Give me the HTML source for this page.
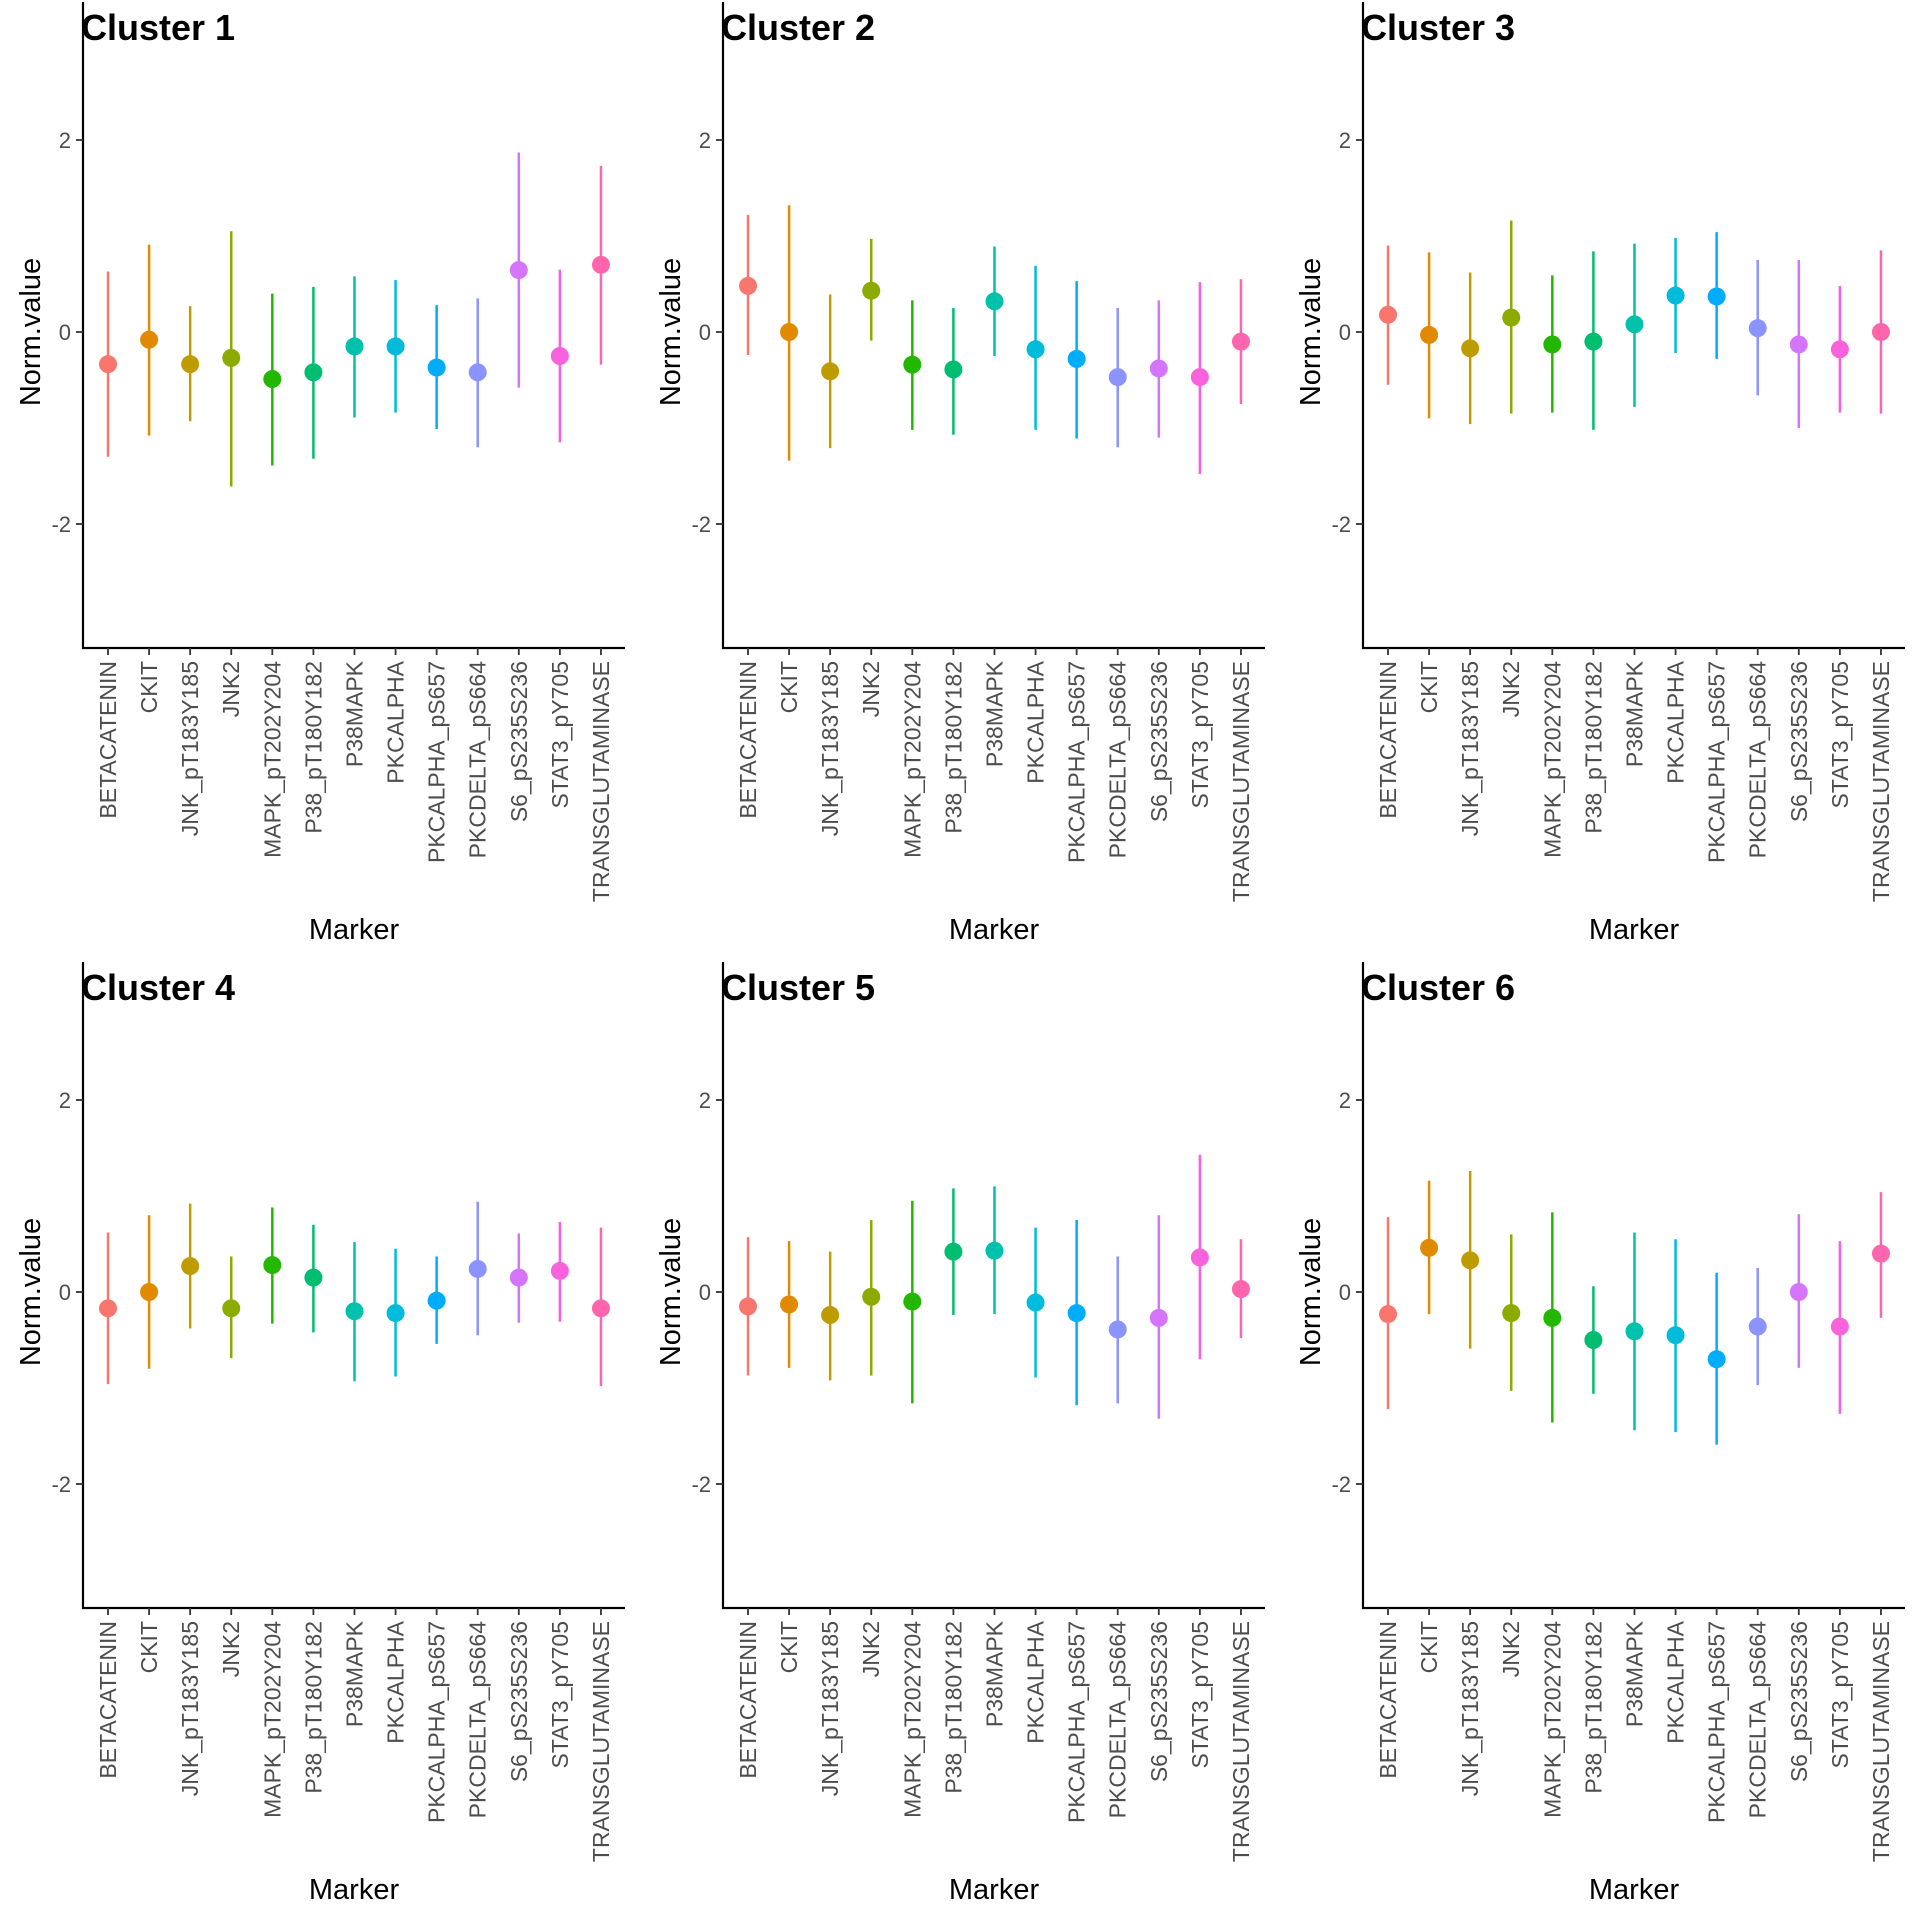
<!DOCTYPE html>
<html><head><meta charset="utf-8"><style>
html,body{margin:0;padding:0;background:#fff;}
svg{display:block;font-family:"Liberation Sans",sans-serif;}
</style></head><body>
<svg id="chart" width="1920" height="1920" viewBox="0 0 1920 1920" xmlns="http://www.w3.org/2000/svg"></svg>
<script>
const markers = ["BETACATENIN","CKIT","JNK_pT183Y185","JNK2","MAPK_pT202Y204","P38_pT180Y182","P38MAPK","PKCALPHA","PKCALPHA_pS657","PKCDELTA_pS664","S6_pS235S236","STAT3_pY705","TRANSGLUTAMINASE"];
const colors = ["#F8766D","#E18A00","#BE9C00","#8CAB00","#24B700","#00BE70","#00C1AB","#00BBDA","#00ACFC","#8B93FF","#D575FE","#F962DD","#FF65AC"];
const clusterNames = ["Cluster 1","Cluster 2","Cluster 3","Cluster 4","Cluster 5","Cluster 6"];
const yTicks = [-2,0,2];
const meanC1 = [-0.335,-0.08,-0.335,-0.27,-0.49,-0.42,-0.15,-0.15,-0.37,-0.42,0.645,-0.25,0.70];
const hiC1 = [0.63,0.91,0.27,1.05,0.40,0.47,0.58,0.54,0.28,0.35,1.87,0.65,1.73];
const loC1 = [-1.30,-1.08,-0.93,-1.61,-1.39,-1.32,-0.89,-0.84,-1.01,-1.20,-0.58,-1.15,-0.34];
const meanC2 = [0.48,0,-0.41,0.43,-0.34,-0.39,0.32,-0.18,-0.28,-0.47,-0.38,-0.47,-0.10];
const hiC2 = [1.22,1.32,0.39,0.97,0.33,0.25,0.89,0.69,0.53,0.25,0.33,0.52,0.55];
const loC2 = [-0.24,-1.34,-1.21,-0.09,-1.02,-1.07,-0.25,-1.02,-1.11,-1.20,-1.10,-1.48,-0.75];
const meanC3 = [0.18,-0.03,-0.17,0.15,-0.13,-0.10,0.08,0.38,0.37,0.04,-0.13,-0.18,0];
const hiC3 = [0.90,0.83,0.62,1.16,0.59,0.84,0.92,0.98,1.04,0.75,0.75,0.48,0.85];
const loC3 = [-0.55,-0.90,-0.96,-0.85,-0.84,-1.02,-0.78,-0.22,-0.28,-0.66,-1.0,-0.84,-0.85];
const meanC4 = [-0.17,0,0.27,-0.17,0.28,0.15,-0.20,-0.22,-0.09,0.24,0.15,0.22,-0.17];
const hiC4 = [0.62,0.80,0.92,0.37,0.88,0.70,0.52,0.45,0.37,0.94,0.61,0.73,0.67];
const loC4 = [-0.96,-0.80,-0.38,-0.69,-0.33,-0.42,-0.93,-0.88,-0.54,-0.45,-0.32,-0.31,-0.98];
const meanC5 = [-0.15,-0.13,-0.24,-0.05,-0.10,0.42,0.43,-0.11,-0.22,-0.39,-0.27,0.36,0.03];
const hiC5 = [0.57,0.53,0.42,0.75,0.95,1.08,1.10,0.67,0.75,0.37,0.80,1.43,0.55];
const loC5 = [-0.87,-0.79,-0.92,-0.87,-1.16,-0.24,-0.23,-0.89,-1.18,-1.16,-1.32,-0.70,-0.48];
const meanC6 = [-0.23,0.46,0.33,-0.22,-0.27,-0.50,-0.41,-0.45,-0.70,-0.36,0,-0.36,0.40];
const hiC6 = [0.78,1.16,1.26,0.60,0.83,0.06,0.62,0.55,0.20,0.25,0.81,0.53,1.04];
const loC6 = [-1.22,-0.23,-0.59,-1.03,-1.36,-1.06,-1.44,-1.46,-1.59,-0.97,-0.79,-1.27,-0.27];
const means=[meanC1,meanC2,meanC3,meanC4,meanC5,meanC6];
const his=[hiC1,hiC2,hiC3,hiC4,hiC5,hiC6];
const los=[loC1,loC2,loC3,loC4,loC5,loC6];

const NS="http://www.w3.org/2000/svg";
const svg=document.getElementById('chart');
function mk(tag,attrs,parent,text){const e=document.createElementNS(NS,tag);for(const k in attrs)e.setAttribute(k,attrs[k]);if(text!==undefined)e.textContent=text;parent.appendChild(e);return e;}

for(let p=0;p<6;p++){
  const px=(p%3)*640, py=Math.floor(p/3)*960;
  const yS=v=>py+332-v*96;
  const xS=i=>px+108+i*41.08;
  const g=mk('g',{},svg);
  
  
  const t=mk('text',{x:px+81,y:py+40,'font-size':36,'font-weight':'bold',fill:'#000'},g,clusterNames[p]);
  
  
  const ya=mk('line',{x1:px+83,y1:py+2,x2:px+83,y2:py+649,stroke:'#000','stroke-width':2.2},g);
  
  
  const xa=mk('line',{x1:px+82,y1:py+648,x2:px+625,y2:py+648,stroke:'#000','stroke-width':2.2},g);
  
  
  yTicks.forEach(v=>{
    const tk=mk('line',{x1:px+76,x2:px+83,y1:yS(v),y2:yS(v),stroke:'#333','stroke-width':1.8},g);
    
    
    const tl=mk('text',{x:px+71,y:yS(v)+8,'font-size':22,'text-anchor':'end',fill:'#4D4D4D'},g,String(v));
    
    
  });
  const yt=mk('text',{x:0,y:0,'font-size':29,'text-anchor':'middle',fill:'#000',transform:`translate(${px+40},${py+332}) rotate(-90)`},g,'Norm.value');
  
  
  const xt=mk('text',{x:px+354,y:py+939,'font-size':29,'text-anchor':'middle',fill:'#000'},g,'Marker');
  
  
  markers.forEach((m,i)=>{
    const x=xS(i);
    const tk=mk('line',{x1:x,x2:x,y1:py+648,y2:py+655,stroke:'#333','stroke-width':1.8},g);
    
    
    const lb=mk('text',{x:0,y:0,'font-size':23,'text-anchor':'end',fill:'#4D4D4D',transform:`translate(${x+8},${py+661}) rotate(-90)`},g,m);
    
    
    const er=mk('line',{x1:x,x2:x,y1:yS(his[p][i]),y2:yS(los[p][i]),stroke:colors[i],'stroke-width':2.5},g);
    
    
    const pt=mk('circle',{cx:x,cy:yS(means[p][i]),r:9,fill:colors[i]},g);
    
    
  });
}
</script>
</body></html>
